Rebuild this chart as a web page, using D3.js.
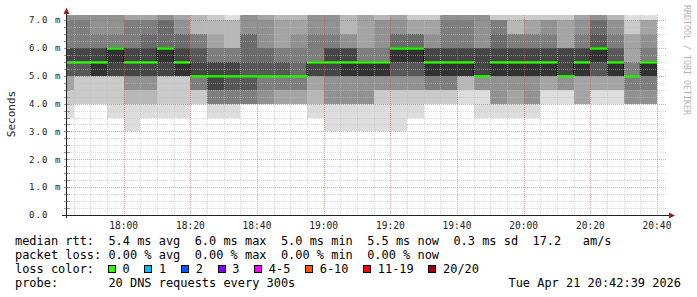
<!DOCTYPE html>
<html><head><meta charset="utf-8">
<script src="https://cdn.jsdelivr.net/npm/d3@7"></script>
<style>
html,body{margin:0;padding:0;background:#fff;}
svg text{font-family:"DejaVu Sans Mono",monospace;white-space:pre;}
</style></head><body>
<svg id="c" width="697" height="297"></svg>
<script>
// ---- data ----
const rttLevels = [3.0,3.5,4.0,4.5,5.0,5.5,6.0,6.5,7.0,7.5]; // ms, 7.5 = off-chart
const slotEnds = ["17:45","17:50","17:55","18:00","18:05","18:10","18:15","18:20","18:25","18:30","18:35","18:40",
  "18:45","18:50","18:55","19:00","19:05","19:10","19:15","19:20","19:25","19:30","19:35","19:40",
  "19:45","19:50","19:55","20:00","20:05","20:10","20:15","20:20","20:25","20:30","20:35","20:40"];
// number of the 20 pings at each rtt level, per 5-minute slot
const pingCounts = [
  [0,1,1,2,4,3,3,0,1,5],[0,0,2,0,6,3,3,0,1,5],[0,0,2,0,8,1,3,1,0,5],[0,1,1,0,7,1,4,1,0,5],
  [1,0,2,2,4,2,3,0,2,4],[0,1,2,2,4,2,2,1,2,4],[0,1,1,0,7,1,3,0,2,5],[0,1,1,0,8,1,2,2,1,4],
  [0,0,2,4,5,1,2,3,0,3],[0,1,5,3,2,3,2,1,1,2],[0,1,5,2,3,3,3,0,2,1],[0,0,6,2,4,1,0,2,0,5],
  [0,0,5,1,6,1,2,0,1,4],[0,0,4,2,6,2,2,0,1,3],[0,0,4,2,7,1,1,1,1,3],[0,1,2,1,5,5,0,1,0,5],
  [1,0,4,0,4,2,3,1,0,5],[1,0,4,0,5,1,4,2,0,3],[1,0,4,0,5,4,2,0,0,4],[1,0,1,3,5,4,1,0,2,3],
  [1,0,1,3,3,2,3,2,1,4],[0,1,1,3,3,2,3,3,2,2],[0,0,2,4,4,1,4,1,2,2],[0,0,2,4,4,1,3,0,1,5],
  [0,0,1,2,7,1,3,0,1,5],[0,1,0,4,6,0,4,0,0,5],[0,1,4,0,5,1,2,1,4,2],[0,1,3,1,5,1,3,3,1,2],
  [0,1,4,0,5,1,3,2,2,2],[0,0,1,3,6,1,3,1,3,2],[0,0,1,4,6,0,5,0,2,2],[0,0,4,0,6,1,3,1,1,4],
  [0,0,1,3,4,2,2,1,2,5],[0,0,1,3,6,2,2,1,2,3],[0,0,5,1,8,2,0,2,1,1],[0,0,5,1,4,4,1,1,3,1]
];
const medianRtt = [5.5,5.5,5.5,6.0,5.5,5.5,6.0,5.5, 5.0,5.0,5.0,5.0,5.0,5.0,5.0,
  5.5,5.5,5.5,5.5,5.5, 6.0,6.0, 5.5,5.5,5.5, 5.0, 5.5,5.5,5.5,5.5, 5.0, 5.5, 6.0, 5.5, 5.0, 5.5];
const lossPct = [0,0,0,0,0,0,0,0,0,0,0,0,0,0,0,0,0,0,0,0,0,0,0,0,0,0,0,0,0,0,0,0,0,0,0,0];
const timeTicks = ["18:00","18:20","18:40","19:00","19:20","19:40","20:00","20:20","20:40"];
const yTicks = [0,1,2,3,4,5,6,7];
const lossLabels = ["0","1","2","3","4-5","6-10","11-19","20/20"];
const lossColors = ["#26ff00","#00b8ff","#0059ff","#7e00ff","#ff00ff","#ff5500","#ff0000","#a10000"];
const probeText = "20 DNS requests every 300s";
const stampText = "Tue Apr 21 20:42:39 2026";
const viewStart = "17:43", viewEnd = "20:43";

// ---- scales ----
const svg = d3.select("#c");
const T = s => { const [h,m] = s.split(":").map(Number); return new Date(Date.UTC(2026,3,21,h,m)); };
const x = d3.scaleUtc().domain([T(viewStart), T(viewEnd)]).range([67, 667]);
const y = d3.scaleLinear().domain([0, 7.18]).range([215, 15]).clamp(true);
const L = 67, R = 667;

// ---- smoke ----
const gSmoke = svg.append("g").attr("shape-rendering","crispEdges");
slotEnds.forEach((s,i) => {
  const e = T(s), b = d3.utcMinute.offset(e,-5);
  const x0 = Math.round(Math.max(L, x(b))), x1 = Math.round(x(e));
  const p = [];
  pingCounts[i].forEach((c,k) => { for (let n=0;n<c;n++) p.push(rttLevels[k]); });
  for (let ib=1; ib<=10; ib++) {
    const lo = p[ib-1], hi = p[20-ib];
    if (hi <= lo) continue;
    const c = Math.floor(190/10*(10-ib))+50;
    const y0 = Math.round(y(hi)), y1 = Math.round(y(lo));
    gSmoke.append("rect").attr("x",x0).attr("width",x1-x0).attr("y",y0).attr("height",y1-y0)
      .attr("fill", d3.rgb(c,c,c));
  }
});

// ---- median connectors + median band ----
const medPts = [];
slotEnds.forEach((s,i) => {
  const e = T(s), b = d3.utcMinute.offset(e,-5);
  medPts.push([Math.max(L, x(b)), y(medianRtt[i])], [x(e), y(medianRtt[i])]);
});
svg.append("path").attr("d", d3.line()(medPts)).attr("fill","none").attr("stroke","#111").attr("stroke-width",1);
slotEnds.forEach((s,i) => {
  const e = T(s), b = d3.utcMinute.offset(e,-5);
  const x0 = Math.round(Math.max(L, x(b))), x1 = Math.round(x(e));
  svg.append("rect").attr("x",x0).attr("width",x1-x0).attr("y",y(medianRtt[i])-0.6).attr("height",2.4)
    .attr("fill", lossColors[0]);
});

// ---- grid ----
const gGrid = svg.append("g").attr("stroke-dasharray","1,1").attr("stroke-width",1).attr("fill","none");
d3.range(0.25, 7.01, 0.25).forEach(v => {
  const major = Math.abs(v - Math.round(v)) < 1e-6;
  const yy = Math.round(y(v)) + 0.5;
  gGrid.append("line").attr("x1",L).attr("x2",R).attr("y1",yy).attr("y2",yy)
    .attr("stroke", major ? "rgba(225,80,80,0.55)" : "rgba(190,190,190,0.55)");
});
d3.utcMinute.every(5).range(T("17:45"), d3.utcMinute.offset(T(viewEnd),1)).forEach(t => {
  const major = t.getUTCMinutes() % 20 === 0;
  const xx = Math.round(x(t)) + 0.5;
  if (xx > R) return;
  gGrid.append("line").attr("x1",xx).attr("x2",xx).attr("y1",15).attr("y2",215)
    .attr("stroke", major ? "rgba(225,80,80,0.55)" : "rgba(190,190,190,0.55)");
});

// ---- axes ----
const gAx = svg.append("g").attr("shape-rendering","crispEdges");
d3.range(0.25, 7.01, 0.25).forEach(v => {
  const yy = Math.round(y(v)) + 0.5;
  gAx.append("line").attr("x1",64).attr("x2",70).attr("y1",yy).attr("y2",yy).attr("stroke","#999");
});
gAx.append("line").attr("x1",66.5).attr("x2",66.5).attr("y1",218).attr("y2",12).attr("stroke","#222");
gAx.append("line").attr("x1",62).attr("x2",670).attr("y1",215.5).attr("y2",215.5).attr("stroke","#222");
svg.append("polygon").attr("points","66.5,7.5 63.5,14 69.5,14").attr("fill","#9b1c1c");
svg.append("polygon").attr("points","675,215.5 669,212.5 669,218.5").attr("fill","#9b1c1c");

yTicks.forEach(v => {
  svg.append("text").attr("x",29).attr("y",y(v)+3.3).attr("font-size","9px").attr("letter-spacing","1.1px")
    .attr("fill","#222").text(v === 0 ? "0.0" : d3.format(".1f")(v) + " m");
});
timeTicks.forEach(s => {
  svg.append("text").attr("x",x(T(s))).attr("y",228.5).attr("text-anchor","middle")
    .attr("font-size","9.6px").attr("fill","#222").text(s);
});
svg.append("text").attr("transform","translate(14.5,114) rotate(-90)").attr("text-anchor","middle")
  .attr("font-size","11px").attr("fill","#222").text("Seconds");
svg.append("text").attr("transform","translate(684,5) rotate(90)").attr("text-anchor","start")
  .attr("font-size","8.3px").attr("fill","#b4b4b4").text("RRDTOOL / TOBI OETIKER");

// ---- legend ----
const f1 = d3.format(".1f"), f2 = d3.format(".2f");
const avg = d3.mean(medianRtt);
const sd = Math.sqrt(d3.mean(medianRtt, v => (v-avg)*(v-avg)));
const FS = "11.95px", X0 = 15, CW = 7.17;
const line1 = `median rtt:  ${f1(avg)} ms avg  ${f1(d3.max(medianRtt))} ms max  ${f1(d3.min(medianRtt))} ms min  ${f1(medianRtt[medianRtt.length-1])} ms now  ${f1(sd)} ms sd  ${f1(avg/sd)}   am/s`;
const line2 = `packet loss: ${f2(d3.mean(lossPct))} % avg  ${f2(d3.max(lossPct))} % max  ${f2(d3.min(lossPct))} % min  ${f2(lossPct[lossPct.length-1])} % now`;
svg.append("text").attr("x",X0).attr("y",245).attr("font-size",FS).attr("fill","#000").text(line1);
svg.append("text").attr("x",X0).attr("y",259).attr("font-size",FS).attr("fill","#000").text(line2);
svg.append("text").attr("x",X0).attr("y",273).attr("font-size",FS).attr("fill","#000").text("loss color:");
let lx = X0 + 15*CW;
lossLabels.forEach((lab,i) => {
  svg.append("rect").attr("x",Math.round(lx-14.7)+0.5).attr("y",265.5).attr("width",7).attr("height",7)
    .attr("fill",lossColors[i]).attr("stroke","#000").attr("stroke-width",1);
  svg.append("text").attr("x",lx).attr("y",273).attr("font-size",FS).attr("fill","#000").text(lab);
  lx += (lab.length + 4.1) * CW;
});
svg.append("text").attr("x",X0).attr("y",287).attr("font-size",FS).attr("fill","#000").text("probe:       " + probeText);
svg.append("text").attr("x",681).attr("y",287).attr("text-anchor","end").attr("font-size",FS).attr("fill","#000").text(stampText);
</script>
</body></html>
